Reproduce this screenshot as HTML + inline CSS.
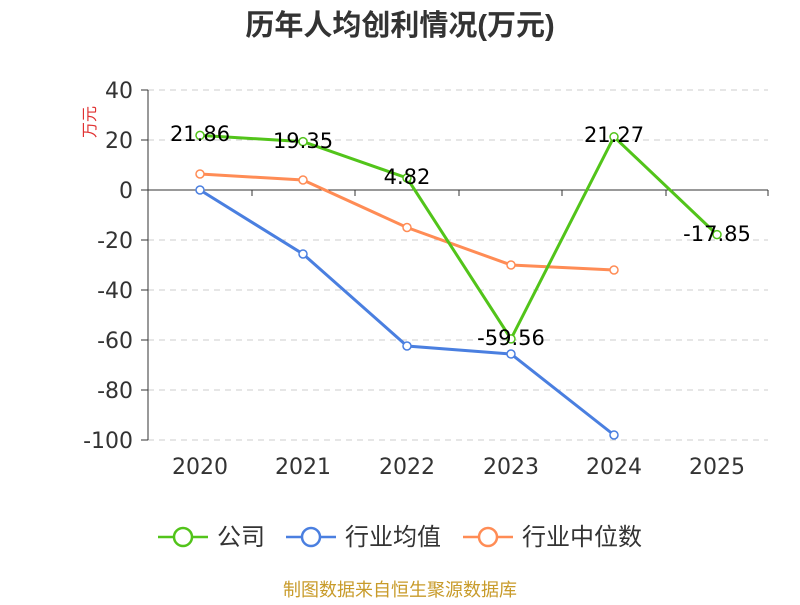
<!DOCTYPE html>
<html><head><meta charset="utf-8"><style>
body{margin:0;background:#fff;}
svg text{font-family:"Liberation Sans","Noto Sans CJK SC",sans-serif;}
svg .n{font-family:"DejaVu Sans",sans-serif;}
</style></head><body>
<svg width="800" height="600" xmlns="http://www.w3.org/2000/svg">
<text x="400" y="35" text-anchor="middle" font-size="29" font-weight="bold" fill="#333">历年人均创利情况(万元)</text>
<text transform="translate(95,122) rotate(-90)" text-anchor="middle" font-size="16" fill="#e03030">万元</text>
<g stroke="#ccc" stroke-dasharray="6,5" stroke-width="1">
<line x1="148" x2="768" y1="90" y2="90"/><line x1="148" x2="768" y1="140" y2="140"/>
<line x1="148" x2="768" y1="240" y2="240"/><line x1="148" x2="768" y1="290" y2="290"/>
<line x1="148" x2="768" y1="340" y2="340"/><line x1="148" x2="768" y1="390" y2="390"/>
<line x1="148" x2="768" y1="440" y2="440"/>
</g>
<line x1="148" x2="148" y1="90" y2="440" stroke="#333"/>
<line x1="148" x2="768" y1="190" y2="190" stroke="#333"/>
<g stroke="#333"><line x1="141" x2="148" y1="90" y2="90"/><line x1="141" x2="148" y1="140" y2="140"/><line x1="141" x2="148" y1="190" y2="190"/><line x1="141" x2="148" y1="240" y2="240"/><line x1="141" x2="148" y1="290" y2="290"/><line x1="141" x2="148" y1="340" y2="340"/><line x1="141" x2="148" y1="390" y2="390"/><line x1="141" x2="148" y1="440" y2="440"/>
<line x1="148" x2="148" y1="190" y2="196"/><line x1="252" x2="252" y1="190" y2="196"/><line x1="355" x2="355" y1="190" y2="196"/><line x1="459" x2="459" y1="190" y2="196"/><line x1="562" x2="562" y1="190" y2="196"/><line x1="666" x2="666" y1="190" y2="196"/><line x1="768" x2="768" y1="190" y2="196"/></g>
<g class="n" font-size="22" fill="#333" text-anchor="end">
<text class="n" x="133" y="98">40</text><text class="n" x="133" y="148">20</text><text class="n" x="133" y="198">0</text><text class="n" x="133" y="248">-20</text><text class="n" x="133" y="298">-40</text><text class="n" x="133" y="348">-60</text><text class="n" x="133" y="398">-80</text><text class="n" x="133" y="448">-100</text></g>
<g font-size="22" fill="#333" text-anchor="middle">
<text class="n" x="200" y="474">2020</text><text class="n" x="303" y="474">2021</text><text class="n" x="407" y="474">2022</text><text class="n" x="511" y="474">2023</text><text class="n" x="614" y="474">2024</text><text class="n" x="717" y="474">2025</text></g>
<g fill="none" stroke-width="3">
<polyline stroke="#4a7fe0" points="200,190 303,254 407,346 511,354 614,435"/>
<polyline stroke="#ff8c55" points="200,174 303,180 407,227.5 511,265 614,270"/>
<polyline stroke="#52c41a" points="200,135.4 303,141.6 407,178 511,338.9 614,136.8 717,234.6"/>
</g>
<g fill="#fff" stroke-width="1.5">
<g stroke="#4a7fe0"><circle cx="200" cy="190" r="4"/><circle cx="303" cy="254" r="4"/><circle cx="407" cy="346" r="4"/><circle cx="511" cy="354" r="4"/><circle cx="614" cy="435" r="4"/></g>
<g stroke="#ff8c55"><circle cx="200" cy="174" r="4"/><circle cx="303" cy="180" r="4"/><circle cx="407" cy="227.5" r="4"/><circle cx="511" cy="265" r="4"/><circle cx="614" cy="270" r="4"/></g>
<g stroke="#52c41a"><circle cx="200" cy="135.4" r="4"/><circle cx="303" cy="141.6" r="4"/><circle cx="407" cy="178" r="4"/><circle cx="511" cy="338.9" r="4"/><circle cx="614" cy="136.8" r="4"/><circle cx="717" cy="234.6" r="4"/></g>
</g>
<g font-size="21" fill="#000" text-anchor="middle">
<text class="n" x="200" y="141">21.86</text><text class="n" x="303" y="148">19.35</text><text class="n" x="407" y="184">4.82</text><text class="n" x="511" y="345">-59.56</text><text class="n" x="614" y="142">21.27</text><text class="n" x="717" y="241">-17.85</text></g>
<g stroke-width="2.5" fill="#fff">
<line x1="158" x2="208" y1="537" y2="537" stroke="#52c41a"/><circle cx="183" cy="537" r="9" stroke="#52c41a"/>
<line x1="286" x2="336" y1="537" y2="537" stroke="#4a7fe0"/><circle cx="311" cy="537" r="9" stroke="#4a7fe0"/>
<line x1="463" x2="513" y1="537" y2="537" stroke="#ff8c55"/><circle cx="488" cy="537" r="9" stroke="#ff8c55"/>
</g>
<g font-size="24" fill="#333"><text x="217" y="545">公司</text><text x="345" y="545">行业均值</text><text x="522" y="545">行业中位数</text></g>
<text x="400" y="596" text-anchor="middle" font-size="18" fill="#c89b2a">制图数据来自恒生聚源数据库</text>
</svg>
</body></html>
